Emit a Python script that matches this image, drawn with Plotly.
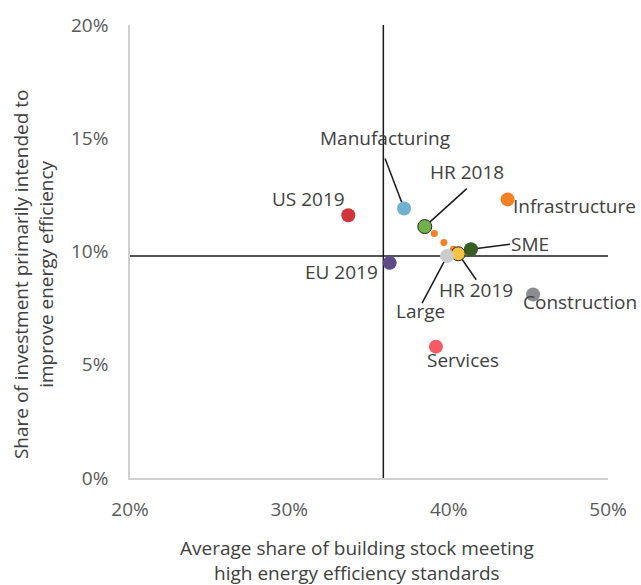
import plotly.graph_objects as go

# Data (percent)
labels = ["US 2019", "Manufacturing", "HR 2018", "Infrastructure", "SME", "HR 2019",
          "Large", "EU 2019", "Construction", "Services"]
x_vals = [33.7, 37.2, 38.5, 43.7, 41.4, 40.6, 39.9, 36.3, 45.3, 39.2]
y_vals = [11.6, 11.9, 11.1, 12.3, 10.1, 9.9, 9.8, 9.5, 8.1, 5.8]
colors = ["#d0343c", "#6fb2d0", "#72b04a", "#f58025", "#385d24", "#f5c242",
          "#cbcbcb", "#5e4a86", "#8a8d8f", "#f55a65"]
# trend dots between HR 2018 and HR 2019
trend_x = [39.1, 39.7, 40.3]
trend_y = [10.8, 10.4, 10.1]
# reference lines (EU averages)
ref_x = 35.9
ref_y = 9.8
x_ticks = [20, 30, 40, 50]
y_ticks = [0, 5, 10, 15, 20]

# label text offsets from the point (pixels, screen: right, down)
text_offsets = {
    "US 2019": (-40, -13),
    "Manufacturing": (-19, -67),
    "HR 2018": (42, -52),
    "Infrastructure": (67, 10),
    "SME": (59, -2),
    "HR 2019": (18, 39),
    "Large": (-27, 58),
    "EU 2019": (-48, 12),
    "Construction": (47, 10),
    "Services": (27, 16),
}
# leader line tail offsets from the point (pixels, screen: right, down)
leader_offsets = {
    "Manufacturing": (-19, -50),
    "HR 2018": (42, -38),
    "SME": (39, -5),
    "HR 2019": (18, 26),
    "Large": (-25, 47),
}

FONT = "Open Sans"
FS = 19
fig = go.Figure()

fig.add_shape(type="line", xref="x", yref="paper", x0=ref_x, x1=ref_x, y0=0, y1=1,
              line=dict(color="#1a1a1a", width=1.5), layer="below")
fig.add_shape(type="line", xref="paper", yref="y", x0=0, x1=1, y0=ref_y, y1=ref_y,
              line=dict(color="#1a1a1a", width=1.5), layer="below")

for lab, xv, yv in zip(labels, x_vals, y_vals):
    if lab in leader_offsets:
        dx, dy = leader_offsets[lab]
        fig.add_shape(type="line", xref="x", yref="y",
                      xsizemode="pixel", ysizemode="pixel", xanchor=xv, yanchor=yv,
                      x0=0, x1=dx, y0=0, y1=-dy,
                      line=dict(color="#1a1a1a", width=1.5), layer="below")

fig.add_trace(go.Scatter(x=trend_x, y=trend_y, mode="markers",
                         marker=dict(size=7, color="#f58025"), showlegend=False,
                         hoverinfo="skip"))

line_colors = []
line_widths = []
for lab in labels:
    if lab.startswith("HR"):
        line_colors.append("#222222")
        line_widths.append(1)
    else:
        line_colors.append("rgba(0,0,0,0)")
        line_widths.append(0)

fig.add_trace(go.Scatter(x=x_vals, y=y_vals, mode="markers", text=labels,
                         marker=dict(size=14, color=colors,
                                     line=dict(color=line_colors, width=line_widths)),
                         showlegend=False))

for lab, xv, yv in zip(labels, x_vals, y_vals):
    xs, ys = text_offsets[lab]
    fig.add_annotation(x=xv, y=yv, text=lab, showarrow=False, xshift=xs, yshift=-ys + 3,
                       font=dict(family=FONT, size=FS, color="#404040"))

fig.add_annotation(xref="paper", yref="paper", x=0.475, y=-0.121, yanchor="top",
                   text="Average share of building stock meeting<br>high energy efficiency standards",
                   showarrow=False, font=dict(family=FONT, size=FS, color="#404040"))
fig.add_annotation(xref="paper", yref="paper", x=-0.203, y=0.45, xanchor="center",
                   yanchor="middle",
                   text="Share of investment primarily intended to<br>improve energy efficiency",
                   textangle=-90, showarrow=False,
                   font=dict(family=FONT, size=FS, color="#404040"))

fig.update_layout(
    width=641, height=585,
    margin=dict(l=130, r=33, t=20, b=107),
    plot_bgcolor="white", paper_bgcolor="white",
    font=dict(family=FONT, size=FS, color="#595959"),
    xaxis=dict(range=[20, 50], tickvals=x_ticks, ticktext=[f"{v}%" for v in x_ticks],
               showgrid=False, zeroline=False, showline=True, linecolor="#d0d0d0",
               linewidth=1.5, ticks="", ticklabelstandoff=13,
               tickfont=dict(size=FS, color="#595959")),
    yaxis=dict(range=[0, 20], tickvals=y_ticks, ticktext=[f"{v}%" for v in y_ticks],
               showgrid=False, zeroline=False, showline=True, linecolor="#d0d0d0",
               linewidth=1.5, ticks="", ticklabelstandoff=16,
               tickfont=dict(size=FS, color="#595959")),
)

fig.write_html("out.html", config={"displayModeBar": False},
               post_script="document.body.style.margin='0';document.body.style.padding='0';")
